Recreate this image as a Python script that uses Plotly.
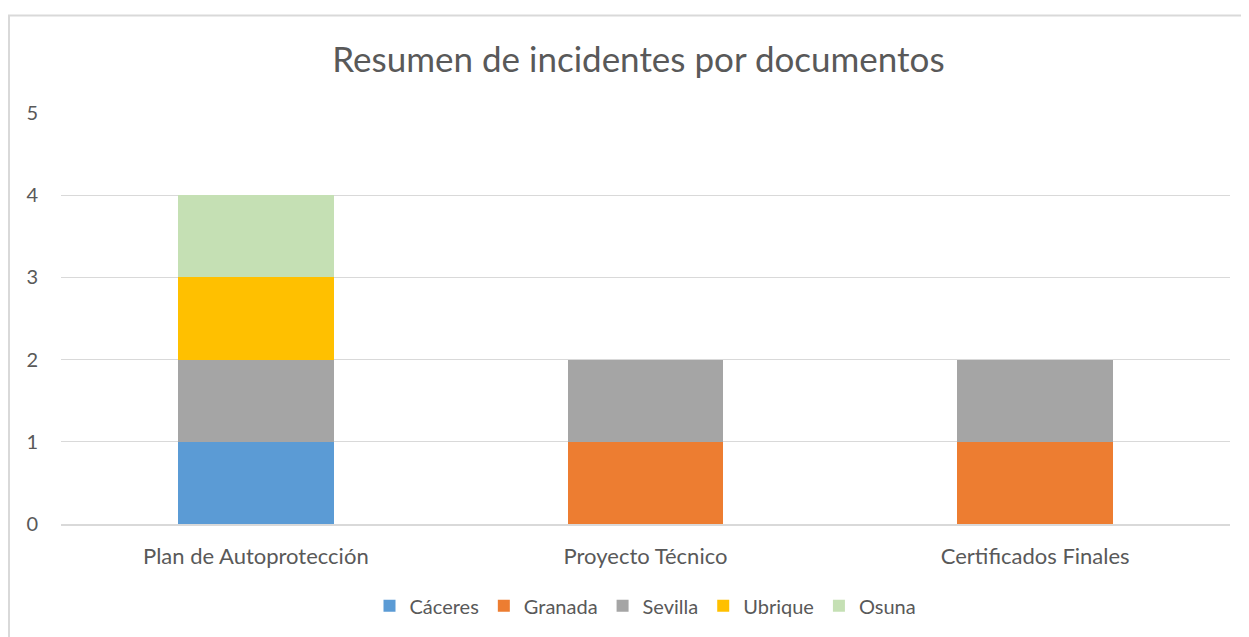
import plotly.graph_objects as go

categories = ['Plan de Autoprotección', 'Proyecto Técnico', 'Certificados Finales']
caceres = [1, 0, 0]
granada = [0, 1, 1]
sevilla = [1, 1, 1]
ubrique = [1, 0, 0]
osuna = [1, 0, 0]

series = [
    ('Cáceres', caceres, '#5B9BD5'),
    ('Granada', granada, '#ED7D31'),
    ('Sevilla', sevilla, '#A5A5A5'),
    ('Ubrique', ubrique, '#FFC000'),
    ('Osuna', osuna, '#C5E0B4'),
]

# page has an 8px body margin, so the figure is a bit smaller than the window
OFF = 8
W, H = 1249 - OFF, 637 - OFF
ml, mr, mt, mb = 61 - OFF, 19, 113 - OFF, 115 - OFF
pw, ph = W - ml - mr, H - mt - mb

fig = go.Figure()
for name, vals, color in series:
    fig.add_trace(go.Bar(
        x=categories,
        y=vals,
        name=name,
        marker=dict(color=color, line=dict(width=0)),
        hovertemplate='<b>%{x}</b><br>' + name + ': %{y}<extra></extra>'
    ))

# light chart border (Excel style), only left/top are inside the view
fig.add_shape(
    type='rect', xref='paper', yref='paper',
    x0=(9 - OFF - ml) / pw, x1=(W + 20 - ml) / pw,
    y0=-(mb + 20) / ph, y1=(H - mb - (14 - OFF)) / ph,
    line=dict(color='#D9D9D9', width=2), layer='below'
)

fig.update_layout(
    width=W, height=H,
    barmode='stack',
    bargap=0.6,
    paper_bgcolor='white',
    plot_bgcolor='white',
    font=dict(family='Lato, Calibri, sans-serif', color='#595959', size=20),
    margin=dict(l=ml, r=mr, t=mt, b=mb),
    title=dict(
        text='Resumen de incidentes por documentos',
        x=0.508, xanchor='center', y=1 - (60 - OFF) / H, yanchor='middle',
        font=dict(size=35, color='#595959')
    ),
    xaxis=dict(
        showgrid=False, showline=True, linecolor='#D9D9D9', linewidth=2,
        ticks='', ticklabelstandoff=12, tickfont=dict(size=22)
    ),
    yaxis=dict(
        range=[0, 5], dtick=1, showgrid=True, gridcolor='#D9D9D9', gridwidth=1,
        zeroline=False, showline=False, ticks='', ticklabelstandoff=22,
        tickfont=dict(size=20)
    ),
    legend=dict(
        orientation='h', x=0.5, xanchor='center', y=-(605 - 522) / ph, yanchor='middle',
        traceorder='normal', font=dict(size=20), itemwidth=30
    )
)

fig.write_html('out.html')
